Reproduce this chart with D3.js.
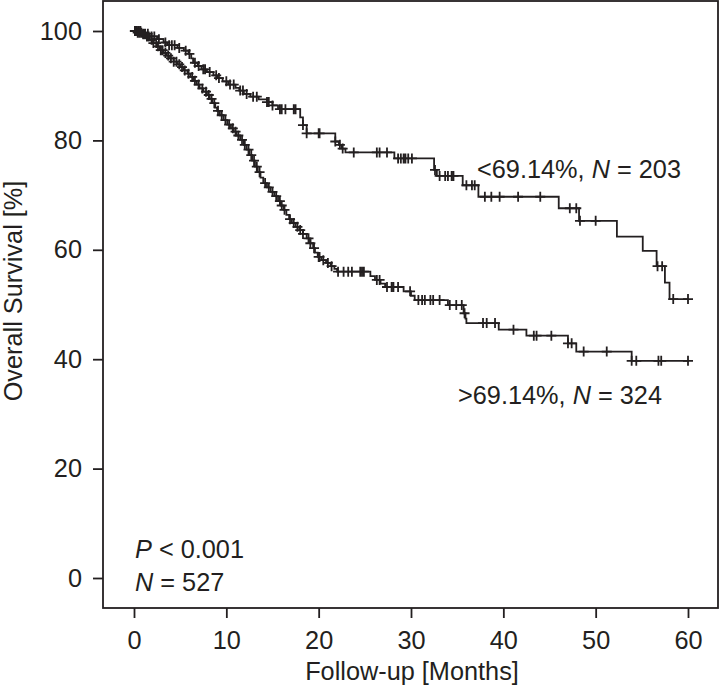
<!DOCTYPE html>
<html>
<head>
<meta charset="utf-8">
<script src="https://cdn.jsdelivr.net/npm/d3@7"></script>
<style>
  html, body { margin: 0; padding: 0; background: #fff; }
  svg { display: block; }
  text { font-family: "Liberation Sans", Arial, Helvetica, sans-serif; fill: #231f20; }
</style>
</head>
<body>
<svg id="chart" width="720" height="688"></svg>
<script>
// ---------- DATA ----------
const xTicks = [0, 10, 20, 30, 40, 50, 60];
const yTicks = [0, 20, 40, 60, 80, 100];
const xTitle = "Follow-up [Months]";
const yTitle = "Overall Survival [%]";
const endTime = 60;

// Group "<69.14%" (N = 203): event times and survival after each drop
const lowGroupTimes = [0.8, 1.6, 2.5, 3.2, 3.6, 4.7, 5.4, 5.9, 6.2, 6.4, 6.9, 7.3, 7.9, 8.6, 9.0, 9.6, 10.2, 11.0, 11.4, 11.9, 12.6, 13.5, 14.4, 15.0, 15.6, 18.0, 18.3, 18.7, 21.8, 22.2, 22.5, 22.9, 28.2, 32.5, 32.8, 35.6, 37.3, 46.0, 48.2, 52.3, 55.1, 56.6, 57.5, 58.0];
const lowGroupSurv  = [99.5, 99.0, 98.5, 97.9, 97.4, 96.9, 96.4, 95.8, 95.0, 94.2, 93.6, 93.0, 92.5, 91.9, 91.4, 90.8, 90.2, 89.6, 89.1, 88.5, 88.0, 87.5, 87.0, 86.4, 85.7, 84.2, 82.8, 81.3, 79.8, 79.2, 78.5, 77.8, 76.7, 74.6, 73.5, 71.8, 69.7, 67.6, 65.3, 62.4, 59.8, 57.0, 54.0, 51.0];
const lowGroupCensor = [0.1, 0.3, 0.5, 0.7, 1.0, 1.2, 1.5, 1.9, 2.2, 2.7, 3.4, 3.8, 4.1, 4.4, 4.9, 5.6, 6.0, 6.6, 7.0, 7.5, 7.7, 8.2, 8.9, 9.2, 10.0, 10.4, 10.8, 11.5, 11.8, 12.2, 12.9, 13.3, 14.4, 14.6, 15.0, 15.8, 16.0, 16.4, 17.3, 17.5, 18.3, 18.7, 20.0, 20.1, 21.8, 22.3, 22.6, 23.8, 26.3, 26.6, 27.4, 28.6, 28.9, 29.2, 29.4, 29.7, 30.1, 32.6, 33.1, 33.7, 34.0, 34.4, 34.6, 36.0, 36.6, 36.9, 38.0, 38.7, 39.6, 41.6, 44.0, 47.2, 47.9, 48.3, 50.0, 56.7, 57.2, 58.4, 60.0];

// Group ">69.14%" (N = 324)
const highGroupTimes = [0.4, 0.9, 1.3, 1.7, 2.1, 2.5, 2.8, 3.2, 3.5, 3.9, 4.3, 4.7, 5.0, 5.4, 5.8, 6.1, 6.4, 6.8, 7.1, 7.5, 7.9, 8.2, 8.5, 8.8, 9.0, 9.3, 9.7, 10.1, 10.5, 10.8, 11.1, 11.5, 11.9, 12.2, 12.5, 12.8, 13.1, 13.4, 13.7, 14.0, 14.4, 14.8, 15.2, 15.6, 15.9, 16.2, 16.5, 16.8, 17.1, 17.5, 17.9, 18.3, 18.7, 19.1, 19.4, 19.6, 19.9, 20.3, 20.8, 21.3, 21.7, 22.0, 25.6, 26.1, 26.7, 27.2, 29.2, 30.0, 30.4, 34.0, 35.7, 35.9, 36.0, 39.5, 42.5, 47.0, 47.9, 53.9];
const highGroupSurv  = [99.7, 99.4, 99.0, 98.4, 97.8, 97.2, 96.5, 96.0, 95.5, 95.0, 94.4, 93.9, 93.4, 92.8, 92.2, 91.6, 90.9, 90.2, 89.5, 88.9, 88.3, 87.6, 86.8, 86.0, 85.4, 84.6, 83.7, 82.9, 82.2, 81.6, 80.9, 80.1, 79.2, 78.3, 77.3, 76.3, 75.2, 74.2, 73.2, 72.2, 71.4, 70.6, 69.8, 68.9, 68.1, 67.3, 66.4, 65.6, 64.9, 64.2, 63.6, 62.9, 62.1, 61.2, 60.3, 59.5, 58.7, 58.1, 57.6, 57.0, 56.5, 56.0, 55.2, 54.5, 53.8, 53.2, 52.4, 51.6, 50.8, 49.9, 48.4, 47.4, 46.6, 45.4, 44.3, 42.9, 41.4, 39.7];
const highGroupCensor = [0.1, 0.2, 0.4, 0.6, 0.8, 1.0, 1.2, 1.4, 1.6, 1.9, 2.1, 2.4, 2.6, 2.9, 3.1, 3.4, 3.7, 4.0, 4.3, 4.6, 4.9, 5.2, 5.5, 5.9, 6.3, 6.6, 7.0, 7.4, 7.8, 8.1, 8.4, 8.7, 9.1, 9.5, 9.9, 10.3, 10.7, 11.0, 11.3, 11.7, 12.0, 12.4, 12.7, 13.0, 13.3, 13.6, 14.2, 14.6, 15.0, 15.4, 15.8, 16.0, 16.3, 16.9, 17.3, 17.7, 18.0, 18.3, 18.9, 19.1, 19.5, 20.0, 20.1, 20.5, 21.0, 21.4, 22.1, 22.7, 23.2, 23.6, 24.5, 24.7, 24.9, 26.3, 26.6, 27.4, 27.9, 28.1, 28.6, 29.9, 30.8, 31.2, 31.5, 32.1, 32.4, 33.1, 34.2, 34.9, 35.5, 35.8, 37.8, 38.2, 39.1, 41.1, 43.3, 43.6, 45.2, 47.0, 47.4, 48.7, 51.2, 53.9, 54.4, 56.8, 57.1, 60.0];

const pText = "0.001";
const totalN = 527;
const lowLabel = "<69.14%";
const lowN = 203;
const highLabel = ">69.14%";
const highN = 324;

// ---------- LAYOUT ----------
const ink = "#231f20";
const box = { left: 103, right: 718, top: 1, bottom: 608 };
const fontSize = 25.3;
const sw = 1.8;

const svg = d3.select("#chart");
const x = d3.scaleLinear().domain([0, 60]).range([134, 688]);
const y = d3.scaleLinear().domain([0, 100]).range([578, 31]);

// frame
svg.append("rect")
  .attr("x", box.left).attr("y", box.top)
  .attr("width", box.right - box.left).attr("height", box.bottom - box.top)
  .attr("fill", "none").attr("stroke", ink).attr("stroke-width", sw);

// axes
const xAxis = svg.append("g")
  .attr("transform", `translate(0,${box.bottom})`)
  .call(d3.axisBottom(x).tickValues(xTicks).tickSize(10).tickPadding(13).tickFormat(d3.format("d")));
const yAxis = svg.append("g")
  .attr("transform", `translate(${box.left},0)`)
  .call(d3.axisLeft(y).tickValues(yTicks).tickSize(10).tickPadding(11).tickFormat(d3.format("d")));
[xAxis, yAxis].forEach(g => {
  g.select(".domain").remove();
  g.selectAll(".tick line").attr("stroke", ink).attr("stroke-width", sw);
  g.selectAll(".tick text")
    .attr("fill", ink)
    .style("font-family", '"Liberation Sans", Arial, sans-serif')
    .style("font-size", fontSize + "px");
});

// titles
svg.append("text")
  .attr("x", 412).attr("y", 680)
  .attr("text-anchor", "middle").style("font-size", fontSize + "px")
  .text(xTitle);
svg.append("text")
  .attr("transform", `translate(22,${291}) rotate(-90)`)
  .attr("text-anchor", "middle").style("font-size", fontSize + "px")
  .text(yTitle);

// KM curves
function stepPoints(times, surv) {
  const pts = [[0, 100]];
  times.forEach((t, i) => pts.push([t, surv[i]]));
  pts.push([endTime, surv[surv.length - 1]]);
  return pts;
}
function survAt(times, surv, t) {
  let v = 100;
  for (let i = 0; i < times.length; i++) { if (times[i] <= t) v = surv[i]; else break; }
  return v;
}
const line = d3.line().x(d => x(d[0])).y(d => y(d[1])).curve(d3.curveStepAfter);

const groups = [
  { times: lowGroupTimes, surv: lowGroupSurv, censor: lowGroupCensor },
  { times: highGroupTimes, surv: highGroupSurv, censor: highGroupCensor }
];
groups.forEach(g => {
  svg.append("path")
    .attr("d", line(stepPoints(g.times, g.surv)))
    .attr("fill", "none").attr("stroke", ink).attr("stroke-width", sw);
  const h = 5;
  svg.append("path")
    .attr("d", g.censor.map(t => {
      const cx = x(t), cy = y(survAt(g.times, g.surv, t));
      return `M${cx - h},${cy}h${2 * h}M${cx},${cy - h}v${2 * h}`;
    }).join(""))
    .attr("fill", "none").attr("stroke", ink).attr("stroke-width", sw);
});

// annotations
function annot(xp, yp, parts) {
  const t = svg.append("text").attr("x", xp).attr("y", yp).style("font-size", fontSize + "px");
  parts.forEach(p => {
    const s = t.append("tspan").text(p[0]);
    if (p[1]) s.style("font-style", "italic");
  });
}
annot(477, 178, [[lowLabel + ", "], ["N", true], [" = " + lowN]]);
annot(458, 404, [[highLabel + ", "], ["N", true], [" = " + highN]]);
annot(135, 558, [["P", true], [" < " + pText]]);
annot(135, 591, [["N", true], [" = " + totalN]]);
</script>
</body>
</html>
